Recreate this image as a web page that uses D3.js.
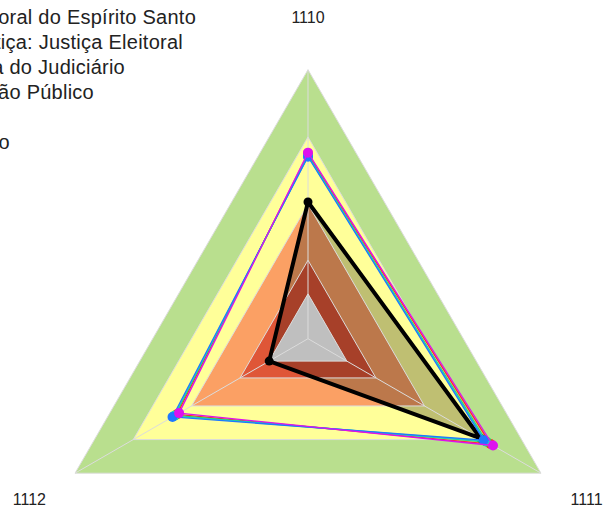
<!DOCTYPE html>
<html>
<head>
<meta charset="utf-8">
<script src="https://cdn.jsdelivr.net/npm/d3@7"></script>
<style>
  body { margin: 0; background: #fff; }
  text { font-family: "Liberation Sans", Arial, sans-serif; fill: #222; }
</style>
</head>
<body>
<div id="radar"></div>
<script>
// axes of the radar (clockwise from the top)
var axes = ["1110", "1111", "1112"];

// background bands, outer to inner
var bandLimits = [120, 90, 60, 35, 20];
var bandColors = ["#b9df8e", "#ffff99", "#fba064", "#df5637", "#ffffff"];

// series (one value per axis)
var seriesNames = [
  "Tribunal Regional Eleitoral do Espírito Santo",
  "Segmento de Justiça: Justiça Eleitoral",
  "Média do Judiciário",
  "Média da Administração Público",
  "Federal",
  "Executivo"
];
var seriesColors = ["#000000", "#ff2a2a", "#22dd44", "#22cccc", "#1e78ff", "#dd11ee"];
var trees   = [61, 89, 20];
var red     = [82.5, 94, 67.5];
var green   = [81.8, 92, 68.5];
var cyan    = [81.5, 91.5, 69];
var blue    = [81.2, 90.5, 69.8];
var magenta = [83, 95.3, 66.4];
var seriesValues = [trees, red, green, cyan, blue, magenta];

// legend right ends (legend is cut off at the left edge)
var legendEnds = [196, 183, 125, 94, -30, 10];

// set the dimensions of the graph
var width = 607, height = 512;
var cx = 308, cy = 338.7;

var svg = d3.select("#radar")
  .append("svg")
  .attr("width", width)
  .attr("height", height);

var r = d3.scaleLinear().domain([0, 120]).range([0, 269]);
var angle = d3.scaleLinear().domain([0, axes.length]).range([0, 2 * Math.PI]);

function pt(v, i) {
  return [cx + r(v) * Math.sin(angle(i)), cy - r(v) * Math.cos(angle(i))];
}
var line = d3.line();
function poly(vals) { return line(vals.map(pt)) + "Z"; }
function ring(lim) { return axes.map(function() { return lim; }); }

// bands
svg.selectAll(".band")
  .data(bandLimits)
  .enter()
  .append("path")
  .attr("class", "band")
  .attr("d", function(d) { return poly(ring(d)); })
  .attr("fill", function(d, i) { return bandColors[i]; });

// fill of the first series
svg.append("path")
  .attr("d", poly(trees))
  .attr("fill", "#000")
  .attr("fill-opacity", 0.25);

// grid
svg.selectAll(".grid")
  .data(bandLimits)
  .enter()
  .append("path")
  .attr("class", "grid")
  .attr("d", function(d) { return poly(ring(d)); })
  .attr("fill", "none")
  .attr("stroke", "#dcdcdc")
  .attr("stroke-width", 1);

svg.selectAll(".axis")
  .data(axes)
  .enter()
  .append("line")
  .attr("class", "axis")
  .attr("x1", cx).attr("y1", cy)
  .attr("x2", function(d, i) { return pt(120, i)[0]; })
  .attr("y2", function(d, i) { return pt(120, i)[1]; })
  .attr("stroke", "#dcdcdc")
  .attr("stroke-width", 1);

// axis labels
svg.selectAll(".lbl")
  .data(axes)
  .enter()
  .append("text")
  .attr("class", "lbl")
  .attr("x", function(d, i) { return pt(143.5, i)[0]; })
  .attr("y", function(d, i) { return pt(143.5, i)[1]; })
  .attr("dy", "0.35em")
  .attr("text-anchor", "middle")
  .style("font-size", "16px")
  .text(function(d) { return d; });

// series lines and markers
seriesValues.forEach(function(vals, s) {
  var col = seriesColors[s];
  svg.append("path")
    .attr("d", poly(vals))
    .attr("fill", "none")
    .attr("stroke", col)
    .attr("stroke-width", s == 0 ? 4 : 1.3)
    .attr("stroke-linejoin", "round");
  svg.selectAll(".m" + s)
    .data(vals)
    .enter()
    .append("circle")
    .attr("cx", function(d, i) { return pt(d, i)[0]; })
    .attr("cy", function(d, i) { return pt(d, i)[1]; })
    .attr("r", s == 0 ? 4.5 : 5)
    .attr("fill", col);
});

// legend
svg.selectAll(".leg")
  .data(seriesNames)
  .enter()
  .append("text")
  .attr("class", "leg")
  .attr("x", function(d, i) { return legendEnds[i]; })
  .attr("y", function(d, i) { return 23.5 + i * 25; })
  .attr("text-anchor", "end")
  .style("font-size", "20px")
  .style("letter-spacing", "0.25px")
  .text(function(d) { return d; });
</script>
</body>
</html>
